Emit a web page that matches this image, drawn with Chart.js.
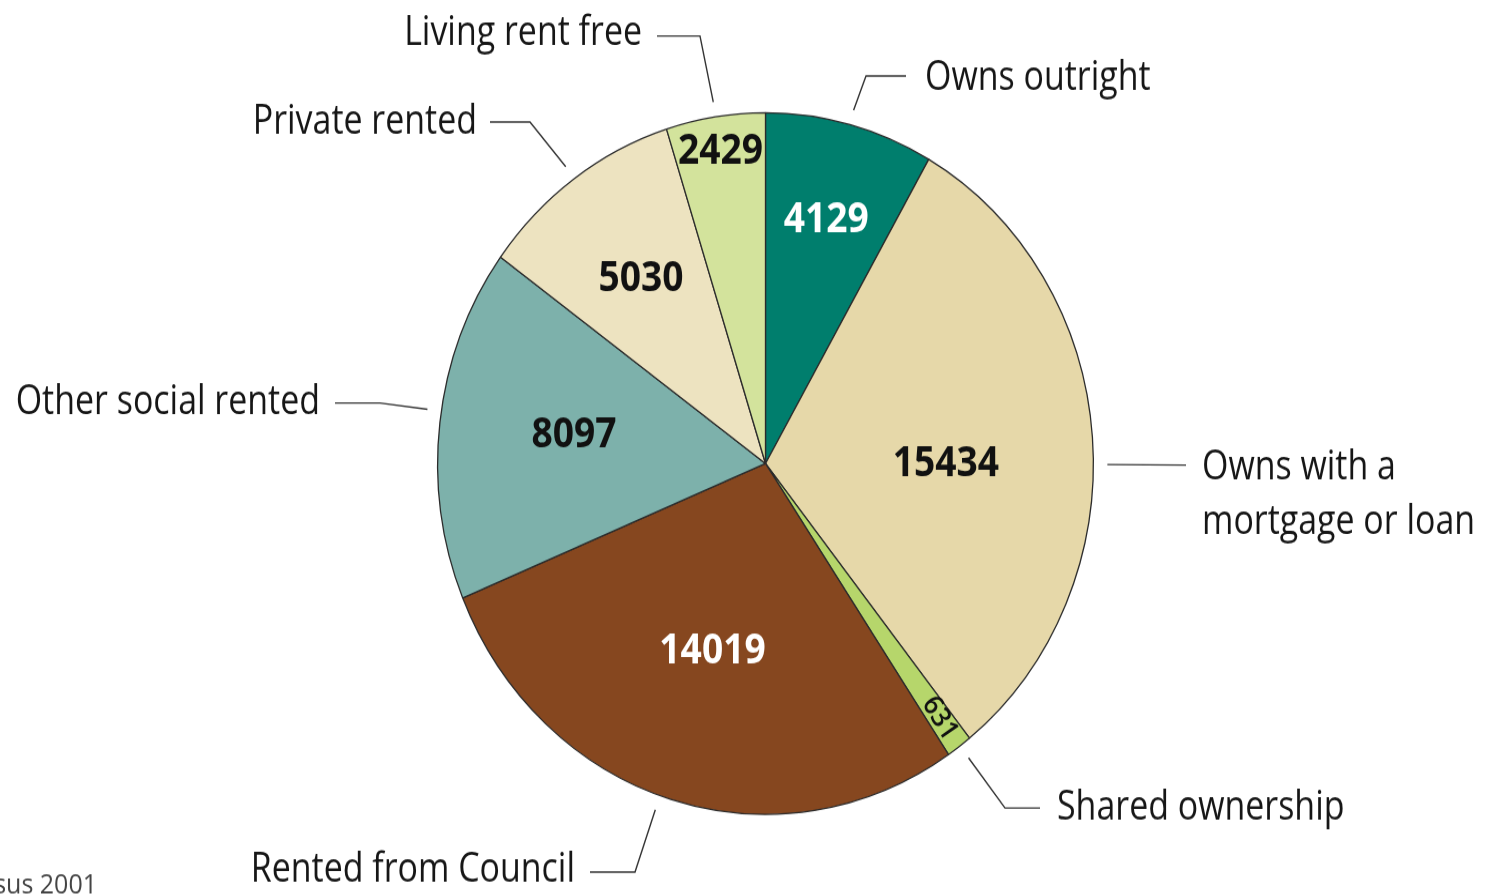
<!DOCTYPE html>
<html>
<head>
<meta charset="utf-8">
<script src="https://cdn.jsdelivr.net/npm/chart.js@4.4.3/dist/chart.umd.min.js"></script>
<style>
  html, body { margin: 0; padding: 0; background: #fff; width: 1490px; height: 894px; overflow: hidden; }
  #wrap { width: 1490px; height: 836px; transform: scaleY(1.07); transform-origin: 0 0; }
  canvas { display: block; }
</style>
</head>
<body>
<div id="wrap"><canvas id="c" width="1490" height="836"></canvas></div>
<script>
const SY = 1.07; // reference pie is a little taller than wide

const categories = ["Owns outright", "Owns with a mortgage or loan", "Shared ownership",
  "Rented from Council", "Other social rented", "Private rented", "Living rent free"];
const households = [4129, 15434, 631, 14019, 8097, 5030, 2429];
const sliceColors = ["#007e6d", "#e6d8a9", "#b6d66b", "#86471f", "#7db1ab", "#ede3c0", "#d3e39c"];
const valueColors = ["#fff", "#111", "#111", "#fff", "#111", "#111", "#111"];
const sourceNote = "Census 2001";

// label styling / placement: radius fraction, position along slice (0..1), rotation
const valueRadius = [0.72, 0.55, 0.9, 0.56, 0.59, 0.65, 0.9];
const valueAlong = [0.5, 0.54, 0.5, 0.5, 0.52, 0.5, 0.5];
const valueRotate = [0, 0, 57, 0, 0, 0, 0];
const leaderAlong = [0.5, 0.54, 0.45, 0.52, 0.53, 0.5, 0.5];

// outer labels: leader starts on the slice edge, elbow + text given in reference px
const callouts = [
  { path: [[866, 76], [906, 76]], text: ["Owns outright"], x: 925, y: 78, align: "left" },
  { path: [[1186, 465]], text: ["Owns with a", "mortgage or loan"], x: 1202, y: 467, align: "left" },
  { path: [[1005, 808], [1040, 808]], text: ["Shared ownership"], x: 1057, y: 808, align: "left" },
  { path: [[635, 872], [590, 872]], text: ["Rented from Council"], x: 575, y: 870, align: "right" },
  { path: [[380, 403], [335, 403]], text: ["Other social rented"], x: 320, y: 402, align: "right" },
  { path: [[530, 122], [490, 122]], text: ["Private rented"], x: 477, y: 122, align: "right" },
  { path: [[700, 36], [657, 36]], text: ["Living rent free"], x: 642, y: 33, align: "right" },
];

const FONT = '"Open Sans", "DejaVu Sans", sans-serif';

function squeezeText(ctx, txt, x, y, sx, rot) {
  ctx.save();
  ctx.translate(x, y);
  if (rot) ctx.rotate(rot * Math.PI / 180);
  ctx.scale(sx, 1);
  ctx.fillText(txt, 0, 0);
  ctx.restore();
}

const labelPlugin = {
  id: "labels",
  afterDatasetsDraw(chart) {
    const ctx = chart.ctx;
    const arcs = chart.getDatasetMeta(0).data;
    ctx.save();
    ctx.textAlign = "center";
    ctx.textBaseline = "middle";
    // values inside slices
    arcs.forEach((arc, i) => {
      const p = arc.getProps(["x", "y", "startAngle", "endAngle", "outerRadius"], true);
      const a = p.startAngle + (p.endAngle - p.startAngle) * valueAlong[i];
      const r = p.outerRadius * valueRadius[i];
      ctx.font = valueRotate[i] ? `600 27px ${FONT}` : `bold 40px ${FONT}`;
      ctx.fillStyle = valueColors[i];
      squeezeText(ctx, String(households[i]), p.x + Math.cos(a) * r, p.y + Math.sin(a) * r, 0.93, valueRotate[i]);
    });
    // leader lines + category names
    ctx.strokeStyle = "#333";
    ctx.lineWidth = 1.4;
    ctx.fillStyle = "#161616";
    ctx.font = `39px ${FONT}`;
    arcs.forEach((arc, i) => {
      const p = arc.getProps(["x", "y", "startAngle", "endAngle", "outerRadius"], true);
      const a = p.startAngle + (p.endAngle - p.startAngle) * leaderAlong[i];
      const c = callouts[i];
      const r0 = p.outerRadius + 14;
      ctx.beginPath();
      ctx.moveTo(p.x + Math.cos(a) * r0, p.y + Math.sin(a) * r0);
      c.path.forEach(([px, py]) => ctx.lineTo(px, py / SY));
      ctx.stroke();
      ctx.textAlign = c.align;
      c.text.forEach((t, k) => squeezeText(ctx, t, c.x, (c.y + k * 55) / SY, 0.87, 0));
    });
    ctx.font = `25px ${FONT}`;
    ctx.textAlign = "right";
    ctx.fillStyle = "#444";
    ctx.fillText(sourceNote, 97, 886 / SY);
    ctx.restore();
  }
};

new Chart(document.getElementById("c"), {
  type: "pie",
  data: {
    labels: categories,
    datasets: [{
      data: households,
      backgroundColor: sliceColors,
      borderColor: "#2b2b2b",
      borderWidth: 1.3,
    }],
  },
  options: {
    responsive: false,
    animation: false,
    devicePixelRatio: 1,
    layout: { padding: { left: 437, right: 396, top: 104.7, bottom: 74.3 } },
    plugins: { legend: { display: false }, tooltip: { enabled: false } },
  },
  plugins: [labelPlugin],
});
</script>
</body>
</html>
